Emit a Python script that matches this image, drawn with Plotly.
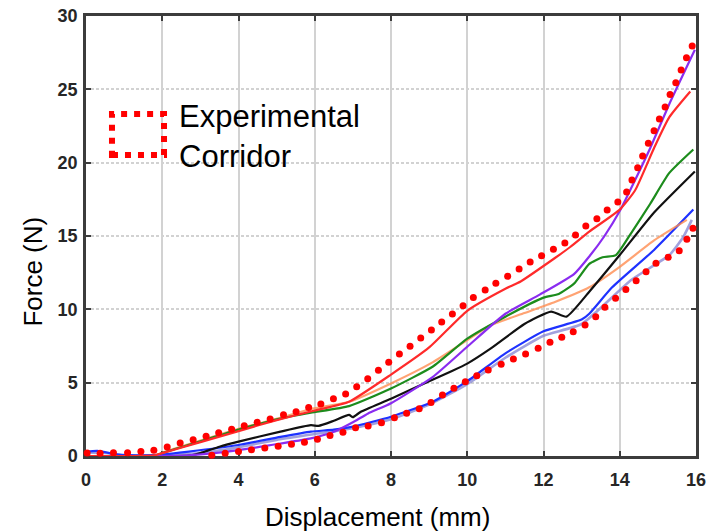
import plotly.graph_objects as go

# ---------------- data ----------------
red_x = [0, 1.0, 1.8, 2.0, 3.0, 4.0, 5.0, 6.0, 6.9, 8.0, 9.0, 10.0, 11.0, 11.4, 12.3, 12.7, 13.2, 14.0, 14.4, 14.9, 15.3, 15.85]
red_y = [0, 0, 0.05, 0.2, 0.95, 1.7, 2.45, 3.1, 3.7, 5.55, 7.4, 9.9, 11.4, 11.9, 13.5, 14.25, 15.3, 16.8, 18.1, 21.0, 23.1, 24.85]

purple_x = [0, 2.7, 4.0, 5.1, 5.9, 6.5, 7.0, 7.4, 8.0, 9.1, 10.0, 11.0, 11.9, 12.8, 13.2, 13.6, 14.0, 14.4, 14.8, 15.3, 15.97]
purple_y = [0, 0.05, 0.4, 0.85, 1.2, 1.65, 2.3, 2.9, 3.6, 5.4, 7.45, 9.7, 11.0, 12.4, 13.6, 15.0, 16.7, 18.8, 21.0, 24.0, 27.7]

green_x = [0, 1.8, 2.0, 3.0, 4.0, 5.1, 5.9, 6.9, 8.0, 9.1, 10.0, 11.0, 12.0, 12.4, 12.8, 13.2, 13.55, 13.9, 14.3, 14.8, 15.3, 15.93]
green_y = [0, 0.02, 0.2, 1.0, 1.8, 2.55, 2.95, 3.4, 4.6, 6.1, 8.0, 9.5, 10.8, 11.05, 11.75, 13.1, 13.55, 13.7, 15.2, 17.2, 19.3, 20.9]

orange_x = [0, 1.8, 2.0, 3.0, 4.0, 5.1, 5.9, 6.9, 8.0, 9.1, 10.0, 10.6, 11.5, 12.3, 13.2, 14.0, 14.9, 15.76]
orange_y = [0, 0.02, 0.22, 1.05, 1.85, 2.6, 3.2, 3.7, 4.95, 6.4, 7.9, 8.9, 9.75, 10.5, 11.5, 12.9, 14.7, 16.1]

black_x = [0, 2.7, 3.0, 3.5, 4.0, 5.1, 5.9, 6.1, 6.5, 6.9, 7.0, 7.2, 8.0, 9.0, 9.6, 10.0, 10.6, 11.5, 12.2, 12.6, 13.2, 14.0, 14.9, 15.97]
black_y = [0, 0.03, 0.2, 0.63, 0.98, 1.66, 2.1, 2.05, 2.4, 2.8, 2.65, 3.0, 3.9, 5.1, 5.8, 6.3, 7.3, 9.0, 9.85, 9.5, 11.2, 13.7, 16.6, 19.4]

blue_x = [0, 0.3, 0.8, 1.5, 2.0, 2.7, 4.0, 5.1, 5.9, 6.5, 7.0, 8.0, 9.1, 10.0, 11.0, 12.0, 13.0, 13.2, 13.8, 14.9, 15.93]
blue_y = [0.3, 0.35, 0.12, 0.05, 0.1, 0.3, 0.75, 1.3, 1.66, 1.8, 2.0, 2.68, 3.7, 5.1, 7.0, 8.5, 9.3, 9.7, 11.5, 14.05, 16.8]

lav_x = [0, 0.5, 1.0, 2.0, 3.0, 4.0, 5.0, 6.0, 7.0, 8.0, 9.0, 10.0, 11.0, 12.0, 13.0, 14.3, 15.3, 15.67, 15.89]
lav_y = [0.25, 0.2, 0.05, 0.05, 0.2, 0.6, 1.1, 1.5, 1.9, 2.5, 3.5, 4.9, 6.7, 8.2, 9.0, 12.0, 13.7, 14.95, 16.1]

# experimental corridor (dotted boundary)
corr_upper_x = [-0.29, 0.03, 0.37, 0.72, 1.09, 1.44, 1.78, 2.13, 2.47, 2.81, 3.15, 3.48, 3.82, 4.15, 4.49, 4.83,
                5.18, 5.51, 5.84, 6.16, 6.49, 6.81, 7.1, 7.39, 7.67, 7.94, 8.22, 8.5, 8.78, 9.06, 9.33, 9.61,
                9.89, 10.16, 10.47, 10.75, 11.06, 11.36, 11.65, 11.95, 12.26, 12.56, 12.84, 13.11, 13.4, 13.67,
                13.95, 14.18, 14.32, 14.47, 14.6, 14.75, 14.9, 15.04, 15.19, 15.32, 15.47, 15.61, 15.75, 15.9, 16.04]
corr_upper_y = [0.12, 0.2, 0.18, 0.22, 0.23, 0.3, 0.39, 0.61, 0.89, 1.11, 1.34, 1.59, 1.82, 2.07, 2.3, 2.52,
                2.82, 3.02, 3.3, 3.55, 3.91, 4.23, 4.73, 5.27, 5.84, 6.39, 6.95, 7.48, 8.05, 8.59, 9.14, 9.68,
                10.25, 10.8, 11.32, 11.77, 12.25, 12.75, 13.23, 13.66, 14.09, 14.52, 15.07, 15.68, 16.18, 16.77,
                17.32, 18.0, 18.82, 19.66, 20.45, 21.32, 22.18, 22.98, 23.8, 24.64, 25.45, 26.32, 27.16, 27.95, 28.8]
corr_right_x = [16.04, 16.03, 16.03, 16.03, 16.03, 16.03, 16.03, 16.03, 16.03, 16.03, 16.03, 16.03, 16.03, 16.02]
corr_right_y = [28.18, 27.27, 26.36, 25.45, 24.55, 23.64, 22.73, 21.82, 20.91, 20.0, 19.09, 18.18, 17.27, 16.36]
corr_lower_x = [15.92, 15.76, 15.56, 15.27, 14.95, 14.69, 14.43, 14.16, 13.89, 13.61, 13.37, 13.09, 12.78, 12.48,
                12.17, 11.86, 11.53, 11.21, 10.89, 10.55, 10.25, 9.95, 9.65, 9.35, 9.05, 8.74, 8.41, 8.09, 7.75,
                7.4, 7.07, 6.74, 6.4, 6.07, 5.73, 5.39, 5.04, 4.69, 4.34, 4.0, 3.65, 3.3, 2.96, 2.61, 2.26, 1.92,
                1.57, 1.22, 0.87, 0.52, 0.17, -0.18]
corr_lower_y = [15.52, 14.77, 14.0, 13.55, 13.14, 12.57, 11.95, 11.36, 10.75, 10.14, 9.5, 8.93, 8.48, 8.09,
                7.75, 7.34, 6.95, 6.61, 6.25, 5.86, 5.48, 5.07, 4.62, 4.16, 3.64, 3.23, 2.91, 2.61, 2.27,
                2.05, 1.93, 1.62, 1.39, 1.14, 0.93, 0.8, 0.66, 0.55, 0.43, 0.3, 0.18, 0.05, -0.05, -0.16, -0.18, -0.18,
                -0.18, -0.18, -0.18, -0.18, -0.18, -0.18]

x_ticks = [0, 2, 4, 6, 8, 10, 12, 14, 16]
y_ticks = [0, 5, 10, 15, 20, 25, 30]
x_title = "Displacement (mm)"
y_title = "Force (N)"
legend_text = "Experimental<br>Corridor"

# ---------------- figure ----------------
FONT = "Liberation Sans, Arial, Helvetica, sans-serif"
fig = go.Figure()

curves = [
    (lav_x, lav_y, "rgba(130,130,210,0.75)", 2.6),
    (blue_x, blue_y, "#1e32ff", 2.2),
    (orange_x, orange_y, "rgba(255,140,80,0.8)", 2.2),
    (black_x, black_y, "#111111", 2.2),
    (green_x, green_y, "#1c8c1c", 2.2),
    (purple_x, purple_y, "#8a2cf0", 2.2),
    (red_x, red_y, "#ff2a2a", 2.2),
]
for xs, ys, col, w in curves:
    fig.add_trace(go.Scatter(x=xs, y=ys, mode="lines",
                             line=dict(color=col, width=w, shape="spline", smoothing=0.5),
                             showlegend=False, hoverinfo="skip"))

corr_x = corr_upper_x + corr_right_x + corr_lower_x
corr_y = corr_upper_y + corr_right_y + corr_lower_y
fig.add_trace(go.Scatter(x=corr_x, y=corr_y, mode="markers",
                         marker=dict(color="#ff0000", size=7, line=dict(width=0)),
                         cliponaxis=False, showlegend=False, hoverinfo="skip"))

axis_common = dict(showline=True, linecolor="#3c3c3c", linewidth=2.5, mirror="ticks",
                   ticks="inside", ticklen=5, tickwidth=2, tickcolor="#3c3c3c",
                   showgrid=True, gridcolor="#d2d2d2", gridwidth=1.5, zeroline=False,
                   layer="below traces", automargin=False,
                   tickfont=dict(family=FONT, size=18, color="#262626", weight="bold"))

fig.update_xaxes(range=[0, 16], tickvals=x_ticks, ticktext=[str(v) for v in x_ticks],
                 griddash="solid", ticklabelstandoff=6, **axis_common)
fig.update_yaxes(range=[0, 30], tickvals=y_ticks, ticktext=[str(v) for v in y_ticks],
                 griddash="3px,2px", ticklabelstandoff=2, **axis_common)

# legend symbol: dotted rectangle
fig.add_shape(type="rect", xref="paper", yref="paper",
              x0=0.0426, x1=0.1279, y0=0.684, y1=0.7773,
              line=dict(color="#ff0000", width=6, dash="6px,7px"), fillcolor="rgba(0,0,0,0)")

fig.add_annotation(text=legend_text, xref="paper", yref="paper", x=0.149, y=0.727,
                   xanchor="left", yanchor="middle", showarrow=False, align="left",
                   font=dict(family=FONT, size=31, color="#000000"))
fig.add_annotation(text=x_title, xref="paper", yref="paper", x=0.478, y=-0.139,
                   xanchor="center", yanchor="middle", showarrow=False,
                   font=dict(family=FONT, size=26, color="#000000"))
fig.add_annotation(text=y_title, xref="paper", yref="paper", x=-0.087, y=0.419,
                   xanchor="center", yanchor="middle", showarrow=False, textangle=-90,
                   font=dict(family=FONT, size=26, color="#000000"))

fig.update_layout(width=715, height=531, margin=dict(l=86, r=19, t=16, b=75, autoexpand=False),
                  plot_bgcolor="white", paper_bgcolor="white", showlegend=False)

fig.write_html("out.html", config={"displayModeBar": False},
               post_script="document.body.style.margin='0';document.body.style.padding='0';"
                           "document.body.style.overflow='hidden';")
